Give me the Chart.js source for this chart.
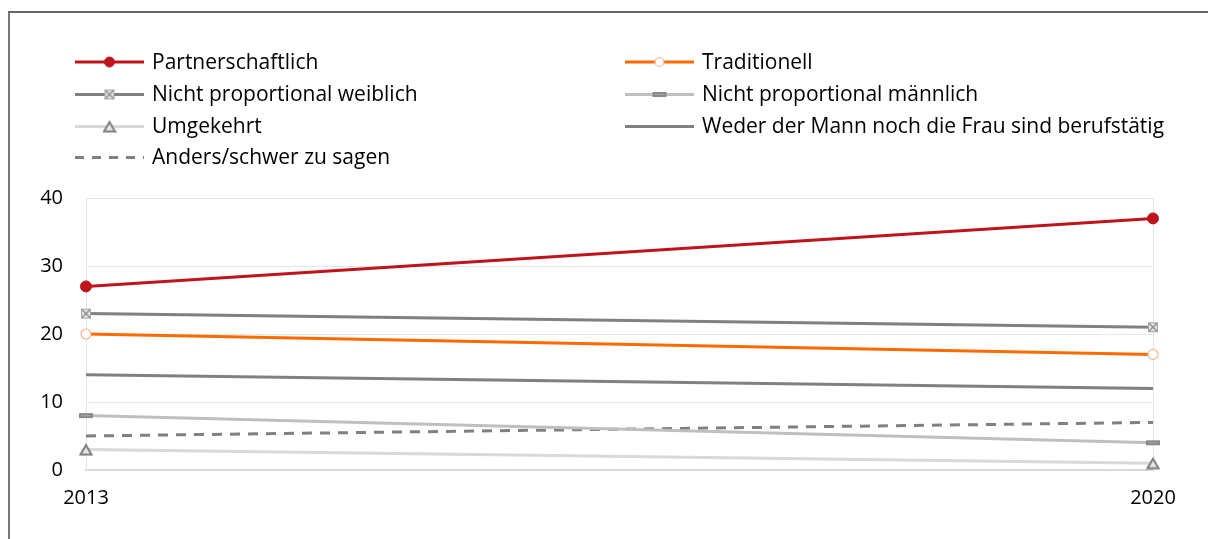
<!DOCTYPE html>
<html>
<head>
<meta charset="utf-8">
<script src="https://cdn.jsdelivr.net/npm/chart.js@4"></script>
<style>
  html, body { margin: 0; padding: 0; background: #fff; }
  #wrap { position: relative; width: 1208px; height: 539px; overflow: hidden; }
  #frame { position: absolute; left: 8px; top: 11px; width: 1400px; height: 700px;
           border-top: 2px solid #666; border-left: 2px solid #777; }
  #box { position: absolute; left: 0; top: 0; width: 1208px; height: 539px; }
</style>
</head>
<body>
<div id="wrap">
  <div id="frame"></div>
  <div id="box"><canvas id="chart"></canvas></div>
</div>
<script>
const years = ['2013', '2020'];
const partnerschaftlich = [27, 37];
const traditionell = [20, 17];
const weiblich = [23, 21];
const maennlich = [8, 4];
const umgekehrt = [3, 1];
const weder = [14, 12];
const anders = [5, 7];
const yMin = 0, yMax = 40, yStep = 10;

const FONT = '"Open Sans", Lato, sans-serif';

// small canvases used as point markers
function marker(w, h, draw) {
    const c = document.createElement('canvas');
    c.width = w; c.height = h;
    draw(c.getContext('2d'));
    return c;
}

const boxX = marker(12, 12, ctx => {
    ctx.fillStyle = '#e3e3e3';
    ctx.fillRect(1, 1, 10, 10);
    ctx.strokeStyle = '#a8a8a8';
    ctx.lineWidth = 1;
    ctx.strokeRect(1.5, 1.5, 9, 9);
    ctx.strokeStyle = '#8a8a8a';
    ctx.lineWidth = 1.3;
    ctx.beginPath();
    ctx.moveTo(2, 2); ctx.lineTo(10, 10);
    ctx.moveTo(10, 2); ctx.lineTo(2, 10);
    ctx.stroke();
});

const dashBar = marker(16, 7, ctx => {
    ctx.fillStyle = '#8a8a8a';
    ctx.fillRect(1, 1, 14, 5);
    ctx.fillStyle = '#a6a6a6';
    ctx.fillRect(3, 3, 10, 1);
});

const triangle = marker(14, 13, ctx => {
    ctx.fillStyle = '#e6e6e6';
    ctx.strokeStyle = '#7f7f7f';
    ctx.lineWidth = 2;
    ctx.beginPath();
    ctx.moveTo(7, 2); ctx.lineTo(12.5, 11.5); ctx.lineTo(1.5, 11.5);
    ctx.closePath();
    ctx.fill();
    ctx.stroke();
});

const datasets = [
    { label: 'Partnerschaftlich', data: partnerschaftlich, borderColor: '#c0141c',
      pointStyle: 'circle', pointRadius: 5.5, pointBackgroundColor: '#c0141c', pointBorderColor: '#c0141c', pointBorderWidth: 1 },
    { label: 'Traditionell', data: traditionell, borderColor: '#ff6a00',
      pointStyle: 'circle', pointRadius: 5, pointBackgroundColor: '#ffffff', pointBorderColor: '#f8b48a', pointBorderWidth: 1.2 },
    { label: 'Nicht proportional weiblich', data: weiblich, borderColor: '#808080',
      pointStyle: boxX, pointRadius: 6 },
    { label: 'Nicht proportional männlich', data: maennlich, borderColor: '#bfbfbf',
      pointStyle: dashBar, pointRadius: 7 },
    { label: 'Umgekehrt', data: umgekehrt, borderColor: '#d9d9d9',
      pointStyle: triangle, pointRadius: 6 },
    { label: 'Weder der Mann noch die Frau sind berufstätig', data: weder, borderColor: '#808080',
      pointRadius: 0 },
    { label: 'Anders/schwer zu sagen', data: anders, borderColor: '#808080',
      borderDash: [10, 8], pointRadius: 0 }
].map(d => Object.assign({ borderWidth: 3, tension: 0, fill: false, pointHoverRadius: d.pointRadius }, d));

// legend in two columns above the plot
const legendPlugin = {
    id: 'gridLegend',
    afterDraw(chart) {
        const ctx = chart.ctx;
        const colX = [75, 625];
        const rowY = [62, 94.5, 126.5, 157.5];
        const lineLen = 69;
        chart.data.datasets.forEach((ds, i) => {
            const x = colX[i % 2];
            const y = rowY[Math.floor(i / 2)];
            ctx.save();
            ctx.strokeStyle = ds.borderColor;
            ctx.lineWidth = ds.borderWidth;
            ctx.setLineDash(ds.borderDash ? [9, 8] : []);
            ctx.beginPath();
            ctx.moveTo(x, y);
            ctx.lineTo(x + lineLen, y);
            ctx.stroke();
            ctx.setLineDash([]);
            if (ds.pointRadius > 0) {
                const cx = x + lineLen / 2;
                if (ds.pointStyle === 'circle') {
                    ctx.beginPath();
                    ctx.arc(cx, y, ds.pointRadius - 0.5, 0, Math.PI * 2);
                    ctx.fillStyle = ds.pointBackgroundColor;
                    ctx.fill();
                    ctx.lineWidth = ds.pointBorderWidth;
                    ctx.strokeStyle = ds.pointBorderColor;
                    ctx.stroke();
                } else {
                    const img = ds.pointStyle;
                    ctx.drawImage(img, cx - img.width / 2, y - img.height / 2);
                }
            }
            ctx.fillStyle = '#000';
            ctx.font = '21px ' + FONT;
            ctx.textBaseline = 'middle';
            ctx.textAlign = 'left';
            ctx.fillText(ds.label, x + 77, y + 1);
            ctx.restore();
        });
    }
};

new Chart(document.getElementById('chart'), {
    type: 'line',
    data: { labels: years, datasets: datasets },
    options: {
        responsive: true,
        maintainAspectRatio: false,
        animation: false,
        layout: { autoPadding: false, padding: { top: 198, right: 55, left: 0, bottom: 0 } },
        plugins: { legend: { display: false }, tooltip: { enabled: false } },
        scales: {
            x: {
                offset: false,
                grid: { color: '#e6e6e6', drawTicks: false },
                border: { color: '#d9d9d9', width: 2 },
                ticks: { color: '#000', font: { family: FONT, size: 20 }, padding: 16, maxRotation: 0 },
                afterFit(scale) { scale.height = 69; }
            },
            y: {
                min: yMin, max: yMax,
                grid: { color: '#e6e6e6', drawTicks: false },
                border: { color: '#e6e6e6', width: 1 },
                ticks: { stepSize: yStep, color: '#000', font: { family: FONT, size: 20 }, padding: 23 },
                afterFit(scale) { scale.width = 86; }
            }
        }
    },
    plugins: [legendPlugin]
});
</script>
</body>
</html>
